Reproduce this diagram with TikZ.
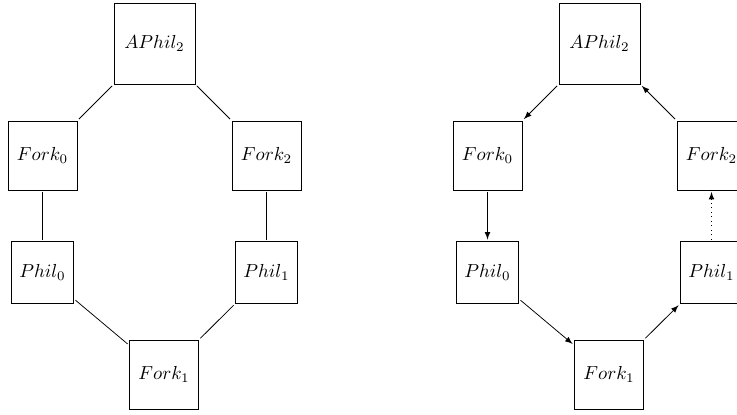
\documentclass[tikz,border=0pt]{standalone}
\usetikzlibrary{arrows}
\begin{document}
\begin{tikzpicture}[x=0.53pt,y=-0.53pt,
  box/.style={draw, rectangle, inner sep=0pt, outer sep=1pt},
  big/.style={box, minimum size=42.9pt},
  mid/.style={box, minimum size=36.6pt},
  small/.style={box, minimum size=32.9pt},
  link/.style={draw, line width=0.4pt},
  arr/.style={link, -latex},
  dot/.style={arr, dotted}]
\useasboundingbox (0,0) rectangle (737,414);
\clip (0,0) rectangle (737,414);
% left
\node[big]   (la)  at (154.5,43.5)  {$APhil_2$};
\node[mid]   (lf0) at (42.5,155.5)  {$Fork_0$};
\node[mid]   (lf2) at (266.5,155.5) {$Fork_2$};
\node[small] (lp0) at (42.5,272.5)  {$Phil_0$};
\node[small] (lp1) at (266.5,272.5) {$Phil_1$};
\node[mid]   (lf1) at (164,374.5)   {$Fork_1$};
\draw[link] (la) -- (lf0);
\draw[link] (la) -- (lf2);
\draw[link] (lf0) -- (lp0);
\draw[link] (lf2) -- (lp1);
\draw[link] (lp0) -- (lf1);
\draw[link] (lp1) -- (lf1);
% right
\node[big]   (ra)  at (599.5,43.5)  {$APhil_2$};
\node[mid]   (rf0) at (487.5,155.5) {$Fork_0$};
\node[mid]   (rf2) at (711.5,155.5) {$Fork_2$};
\node[small] (rp0) at (487.5,272.5) {$Phil_0$};
\node[small] (rp1) at (711.5,272.5) {$Phil_1$};
\node[mid]   (rf1) at (609,374.5)   {$Fork_1$};
\draw[arr] (ra) -- (rf0);
\draw[arr] (rf0) -- (rp0);
\draw[arr] (rp0) -- (rf1);
\draw[arr] (rf1) -- (rp1);
\draw[dot] (rp1) -- (rf2);
\draw[arr] (rf2) -- (ra);
\end{tikzpicture}
\end{document}
